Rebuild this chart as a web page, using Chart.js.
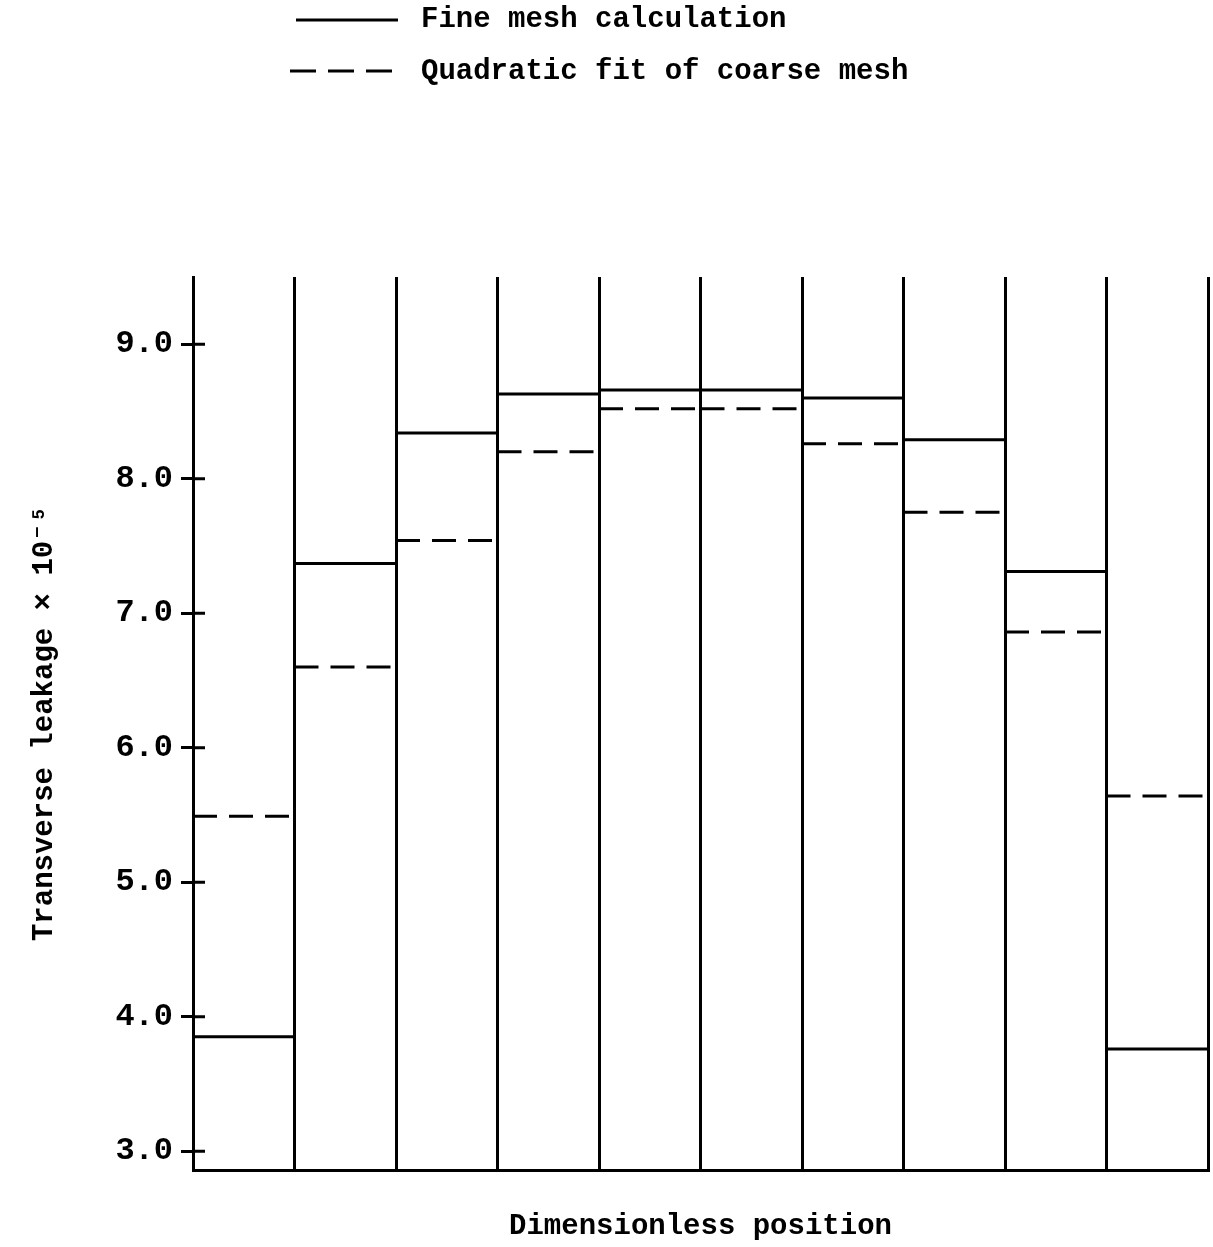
<!DOCTYPE html>
<html>
<head>
<meta charset="utf-8">
<script src="https://cdn.jsdelivr.net/npm/chart.js@4/dist/chart.umd.min.js"></script>
<style>
  html, body { margin: 0; padding: 0; background: #fff; }
  #wrap { width: 1213px; height: 1247px; }
</style>
</head>
<body>
<div id="wrap"><canvas id="leakage"></canvas></div>
<script>
const seriesNames = ["Fine mesh calculation", "Quadratic fit of coarse mesh"];
const cells = [0, 1, 2, 3, 4, 5, 6, 7, 8, 9];
const fineMesh = [3.85, 7.37, 8.34, 8.63, 8.66, 8.66, 8.60, 8.29, 7.31, 3.76];
const coarseFit = [5.49, 6.60, 7.54, 8.20, 8.52, 8.52, 8.26, 7.75, 6.86, 5.64];
const yTicks = [3, 4, 5, 6, 7, 8, 9];

const fontName = "'Liberation Mono', 'DejaVu Sans Mono', monospace";

// each cell gets a flat segment, with a gap between cells
function steps(values) {
  const pts = [];
  values.forEach((v, i) => {
    pts.push({ x: cells[i], y: v });
    pts.push({ x: cells[i] + 1, y: v });
    pts.push({ x: cells[i] + 1, y: null });
  });
  return pts;
}

const legendPlugin = {
  id: "typedLegend",
  afterDraw(chart) {
    const ctx = chart.ctx;
    ctx.save();
    ctx.strokeStyle = "#000";
    ctx.lineWidth = 3;
    ctx.beginPath();
    ctx.moveTo(296, 20);
    ctx.lineTo(398, 20);
    ctx.stroke();
    ctx.setLineDash([26, 12]);
    ctx.beginPath();
    ctx.moveTo(290, 71);
    ctx.lineTo(392, 71);
    ctx.stroke();
    ctx.setLineDash([]);
    ctx.fillStyle = "#000";
    ctx.font = "bold 29px " + fontName;
    ctx.textBaseline = "middle";
    ctx.fillText(seriesNames[0], 421, 20);
    ctx.fillText(seriesNames[1], 421, 72);

    // tick marks cross the axis: draw the inner half
    const y = chart.scales.y;
    ctx.beginPath();
    yTicks.forEach((t) => {
      const py = y.getPixelForValue(t);
      ctx.moveTo(y.right, py);
      ctx.lineTo(y.right + 12, py);
    });
    ctx.stroke();
    ctx.restore();
  },
};

new Chart(document.getElementById("leakage").getContext("2d"), {
  type: "line",
  data: {
    datasets: [
      {
        label: seriesNames[0],
        data: steps(fineMesh),
        borderColor: "#000",
        borderWidth: 3,
        pointRadius: 0,
        spanGaps: false,
      },
      {
        label: seriesNames[1],
        data: steps(coarseFit),
        borderColor: "#000",
        borderWidth: 3,
        borderDash: [24, 12],
        pointRadius: 0,
        spanGaps: false,
      },
    ],
  },
  options: {
    responsive: true,
    maintainAspectRatio: false,
    animation: false,
    layout: { padding: { top: 277, right: 5, left: 0, bottom: 0 } },
    plugins: { legend: { display: false }, tooltip: { enabled: false } },
    scales: {
      x: {
        type: "linear",
        min: 0,
        max: 10,
        ticks: { display: false, stepSize: 1 },
        grid: { color: "#000", lineWidth: 3, drawTicks: false },
        border: { color: "#000", width: 3 },
        title: {
          display: true,
          text: "Dimensionless position",
          color: "#000",
          font: { family: fontName, size: 29, weight: "bold" },
          padding: { top: 0, bottom: 3 },
        },
        afterFit(scale) { scale.height = 77; },
      },
      y: {
        min: 2.86,
        max: 9.5,
        afterBuildTicks(scale) { scale.ticks = yTicks.map((v) => ({ value: v })); },
        ticks: {
          color: "#000",
          font: { family: fontName, size: 32, weight: "bold" },
          padding: 8,
          callback: (v) => v.toFixed(1),
        },
        grid: { drawOnChartArea: false, color: "#000", lineWidth: 3, tickLength: 12 },
        border: { color: "#000", width: 3 },
        title: {
          display: true,
          text: "Transverse leakage \u00d7 10\u207b\u2075",
          color: "#000",
          font: { family: fontName, size: 29, weight: "bold" },
          padding: { top: 27, bottom: 0 },
        },
        afterFit(scale) { scale.width = 193; },
      },
    },
  },
  plugins: [legendPlugin],
});
</script>
</body>
</html>
